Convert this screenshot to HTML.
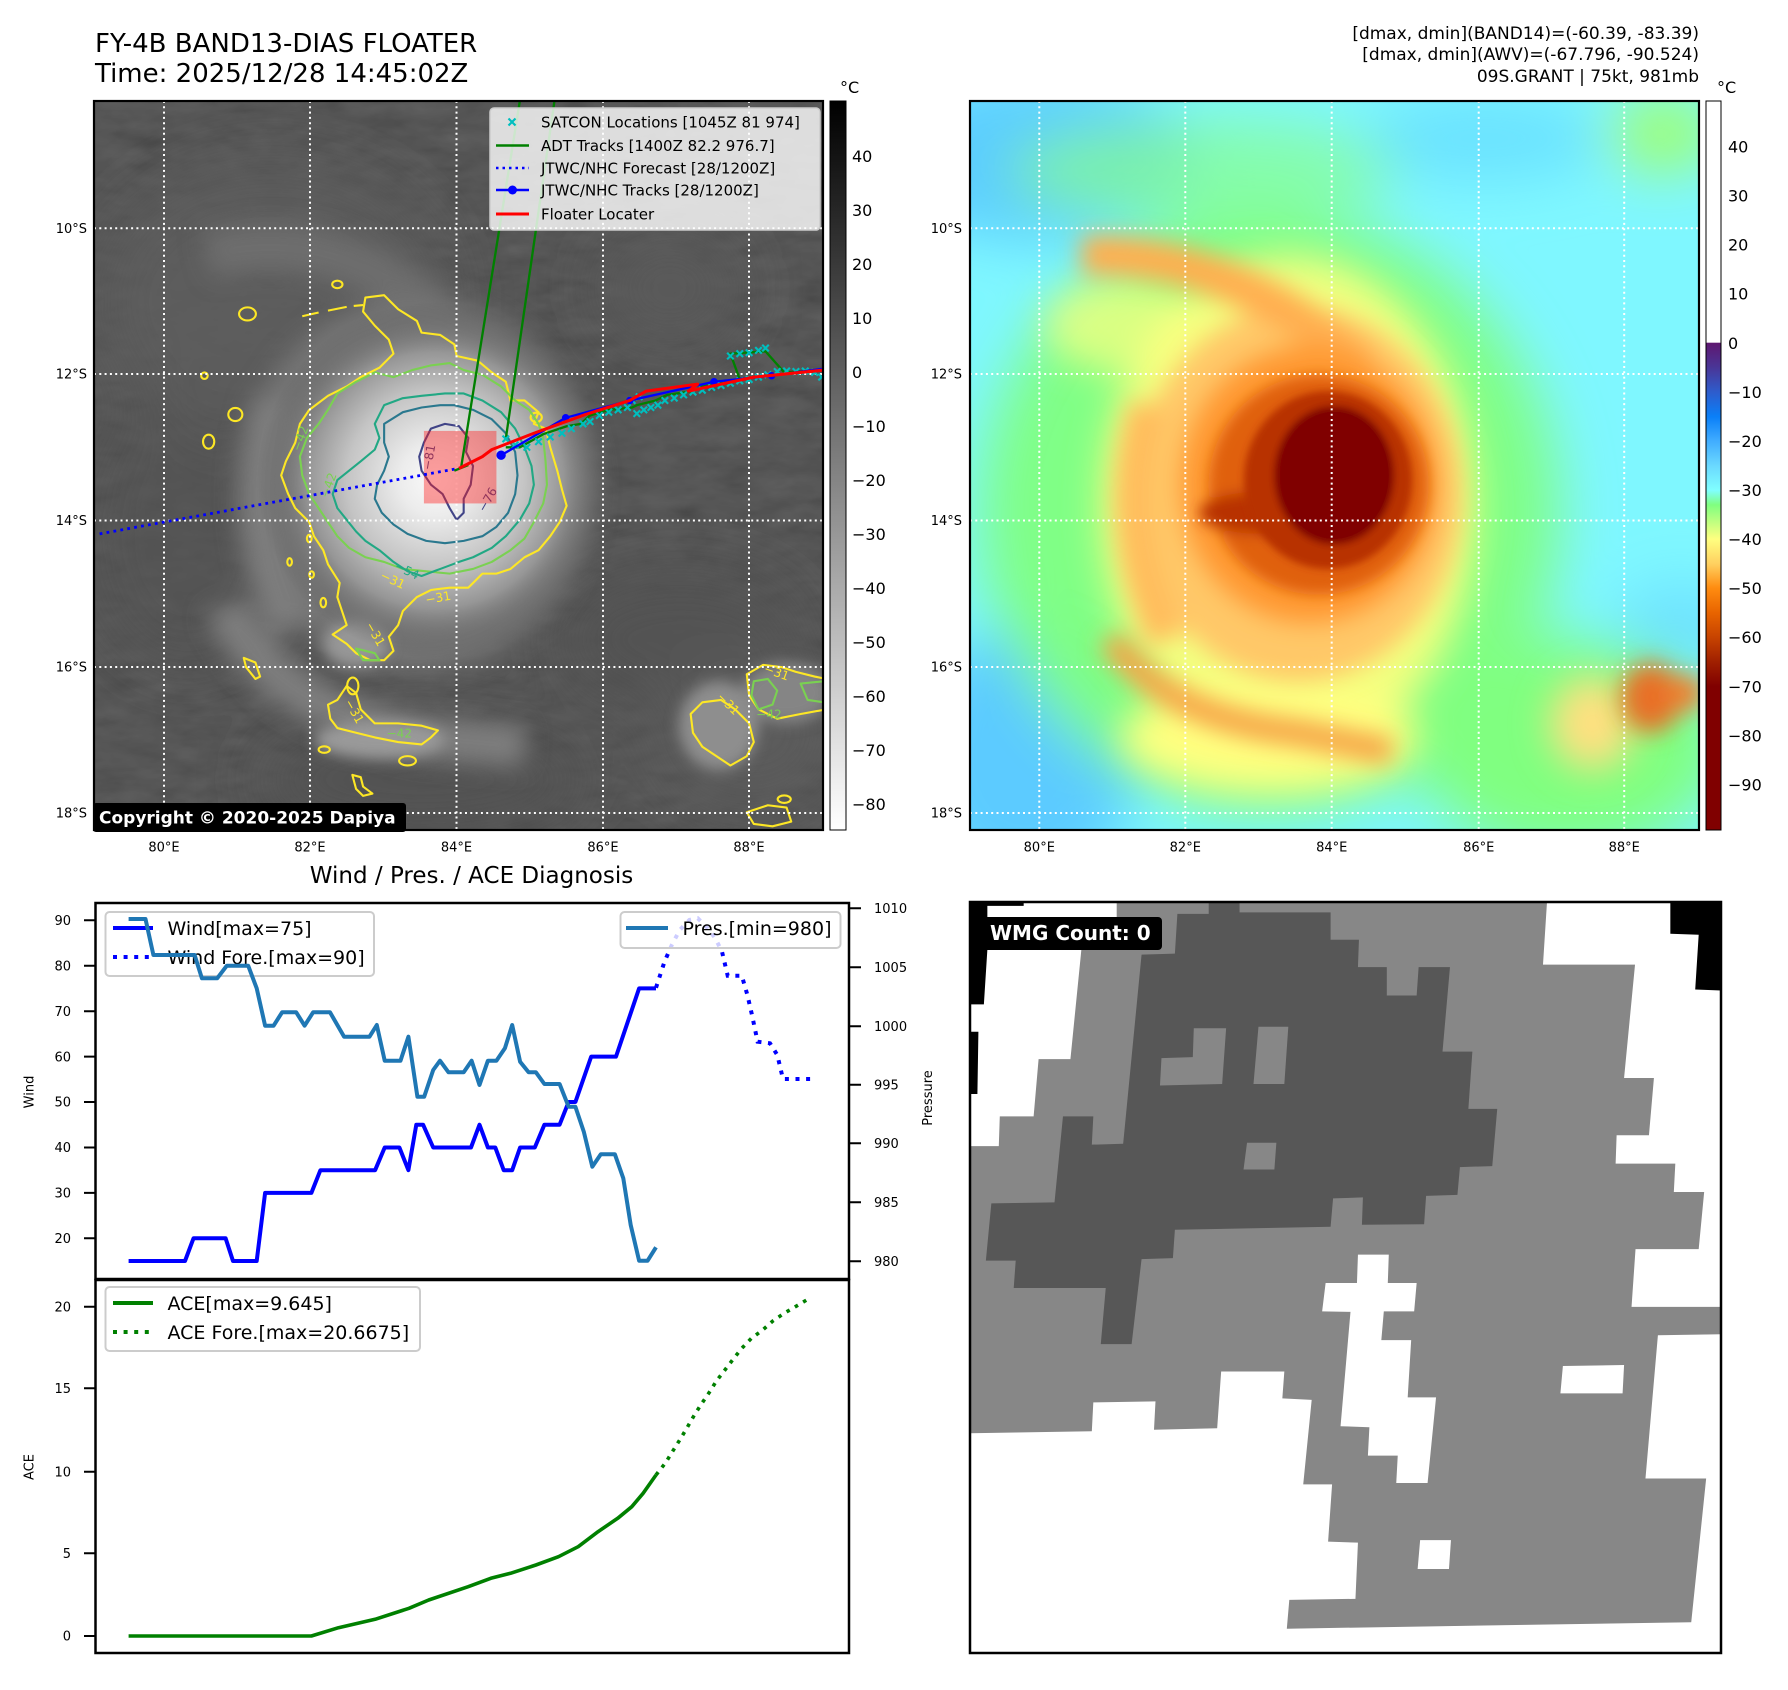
<!DOCTYPE html>
<html><head><meta charset="utf-8"><style>
html,body{margin:0;padding:0;background:#fff;}
svg{display:block;}
text{font-family:"DejaVu Sans","Liberation Sans",sans-serif;}
</style></head><body>
<svg width="1788" height="1690" viewBox="0 0 1788 1690" xmlns="http://www.w3.org/2000/svg">
<defs>
<filter id="b60" x="-50%" y="-50%" width="200%" height="200%"><feGaussianBlur stdDeviation="60"/></filter>
<filter id="b40" x="-50%" y="-50%" width="200%" height="200%"><feGaussianBlur stdDeviation="40"/></filter>
<filter id="b25" x="-50%" y="-50%" width="200%" height="200%"><feGaussianBlur stdDeviation="25"/></filter>
<filter id="b15" x="-50%" y="-50%" width="200%" height="200%"><feGaussianBlur stdDeviation="15"/></filter>
<filter id="b8" x="-50%" y="-50%" width="200%" height="200%"><feGaussianBlur stdDeviation="8"/></filter>
<filter id="noise" x="0" y="0" width="100%" height="100%">
<feTurbulence type="fractalNoise" baseFrequency="0.012 0.03" numOctaves="3" seed="7"/>
<feColorMatrix type="matrix" values="0.33 0.33 0.33 0 0  0.33 0.33 0.33 0 0  0.33 0.33 0.33 0 0  0 0 0 0 1"/>
</filter>
<radialGradient id="cdo" cx="730" cy="810" r="380" gradientUnits="userSpaceOnUse">
<stop offset="0" stop-color="#fafafa"/>
<stop offset="0.2" stop-color="#ececec"/>
<stop offset="0.5" stop-color="#c4c4c4"/>
<stop offset="0.72" stop-color="#969696"/>
<stop offset="0.86" stop-color="#747474" stop-opacity="0.5"/>
<stop offset="1" stop-color="#555" stop-opacity="0"/>
</radialGradient>
<linearGradient id="cbgray" x1="0" y1="0" x2="0" y2="1">
<stop offset="0" stop-color="#000"/><stop offset="1" stop-color="#fff"/>
</linearGradient>
<linearGradient id="cbcol" x1="0" y1="0" x2="0" y2="1">
<stop offset="0" stop-color="#fff"/>
<stop offset="0.331" stop-color="#fff"/>
<stop offset="0.332" stop-color="#5e1770"/>
<stop offset="0.365" stop-color="#4a3596"/>
<stop offset="0.399" stop-color="#2e5ccc"/>
<stop offset="0.433" stop-color="#0a7ff8"/>
<stop offset="0.466" stop-color="#40acff"/>
<stop offset="0.50" stop-color="#6ad8ff"/>
<stop offset="0.534" stop-color="#80ffff"/>
<stop offset="0.554" stop-color="#80ff80"/>
<stop offset="0.601" stop-color="#ffff80"/>
<stop offset="0.635" stop-color="#ffd060"/>
<stop offset="0.668" stop-color="#ff8c10"/>
<stop offset="0.702" stop-color="#e86400"/>
<stop offset="0.735" stop-color="#c84400"/>
<stop offset="0.769" stop-color="#a02000"/>
<stop offset="0.803" stop-color="#800000"/>
<stop offset="1" stop-color="#800000"/>
</linearGradient>
<g id="xm"><path d="M-7,-7 L7,7 M-7,7 L7,-7" stroke="#00bfbf" stroke-width="4.5"/></g>
</defs>

<!-- Titles -->
<text x="95" y="52" font-size="26">FY-4B BAND13-DIAS FLOATER</text>
<text x="95" y="82" font-size="26">Time: 2025/12/28 14:45:02Z</text>
<text x="1699" y="39" font-size="17" text-anchor="end">[dmax, dmin](BAND14)=(-60.39, -83.39)</text>
<text x="1699" y="60" font-size="17" text-anchor="end">[dmax, dmin](AWV)=(-67.796, -90.524)</text>
<text x="1699" y="82" font-size="17" text-anchor="end">09S.GRANT | 75kt, 981mb</text>

<!-- LEFT MAP imagery -->
<svg x="94" y="101" width="730" height="730" viewBox="0 0 1560 1560">
<rect width="1560" height="1560" fill="#3a3a3a"/>
<rect width="1560" height="1560" filter="url(#noise)" opacity="0.22"/>
<g filter="url(#b60)">
<ellipse cx="380" cy="430" rx="380" ry="300" fill="#5e5e5e" opacity="0.85"/>
<ellipse cx="200" cy="920" rx="220" ry="300" fill="#555" opacity="0.7"/>
<ellipse cx="1230" cy="400" rx="150" ry="120" fill="#5a5a5a"/>
<ellipse cx="1250" cy="1150" rx="260" ry="150" fill="#525252"/>
<ellipse cx="1400" cy="1350" rx="200" ry="170" fill="#5c5c5c"/>
<ellipse cx="700" cy="1450" rx="350" ry="120" fill="#535353"/>
</g>
<g filter="url(#b25)">
<path d="M240,330 Q560,250 820,540" stroke="#747474" stroke-width="100" fill="none" opacity="0.75"/>
<ellipse cx="690" cy="820" rx="380" ry="400" fill="#747474"/>
<path d="M280,1080 Q380,1300 700,1360 L920,1380" stroke="#7e7e7e" stroke-width="90" fill="none"/>
<path d="M380,640 Q300,900 420,1130" stroke="#7e7e7e" stroke-width="80" fill="none"/>
</g>
<g filter="url(#b15)">
<ellipse cx="1335" cy="1335" rx="85" ry="95" fill="#8e8e8e"/>
<ellipse cx="1480" cy="1265" rx="95" ry="65" fill="#858585"/>
<ellipse cx="610" cy="1365" rx="140" ry="40" fill="#9a9a9a"/>
<ellipse cx="560" cy="1160" rx="70" ry="50" fill="#969696"/>
</g>
<circle cx="730" cy="810" r="380" fill="url(#cdo)"/>
<!-- contours -->
<g fill="none" stroke-width="4.5" stroke-linejoin="round">
<path stroke="#fde725" d="M580,420 L620,415 650,445 690,470 700,495 740,500 770,520 775,545 820,555 850,580 880,600 890,640 920,640 950,665 940,690 965,700 975,740 990,790 1000,830 1010,865 995,900 975,930 950,960 920,975 890,1000 860,1010 830,1010 800,1040 760,1040 720,1045 690,1060 660,1090 650,1120 630,1145 640,1175 620,1195 590,1195 560,1180 540,1160 510,1140 540,1120 530,1090 520,1060 525,1030 500,990 490,960 470,930 460,900 430,870 415,840 400,800 410,770 430,730 440,690 460,660 500,630 540,610 570,590 610,570 640,540 630,510 600,480 575,450 Z"/>
<path stroke="#fde725" d="M445,460 L480,452 M500,448 L540,440 M555,438 L575,436"/>
<ellipse stroke="#fde725" cx="328" cy="455" rx="18" ry="14"/>
<ellipse stroke="#fde725" cx="520" cy="392" rx="11" ry="8"/>
<ellipse stroke="#fde725" cx="302" cy="670" rx="15" ry="14"/>
<ellipse stroke="#fde725" cx="245" cy="728" rx="12" ry="15"/>
<ellipse stroke="#fde725" cx="236" cy="587" rx="7" ry="7"/>
<ellipse stroke="#fde725" cx="418" cy="985" rx="5" ry="8"/>
<ellipse stroke="#fde725" cx="460" cy="935" rx="5" ry="8"/>
<ellipse stroke="#fde725" cx="465" cy="1012" rx="5" ry="7"/>
<ellipse stroke="#fde725" cx="490" cy="1072" rx="6" ry="10"/>
<path stroke="#fde725" d="M320,1190 L345,1200 355,1230 345,1235 325,1210 Z"/>
<ellipse stroke="#fde725" cx="553" cy="1250" rx="12" ry="18"/>
<path stroke="#fde725" d="M500,1290 L520,1280 540,1250 560,1265 570,1300 600,1330 650,1330 700,1335 735,1345 720,1360 700,1375 650,1370 600,1360 560,1350 520,1340 505,1320 Z"/>
<ellipse stroke="#fde725" cx="492" cy="1386" rx="12" ry="7"/>
<ellipse stroke="#fde725" cx="670" cy="1410" rx="18" ry="10"/>
<path stroke="#fde725" d="M552,1440 L570,1445 575,1465 595,1480 575,1485 560,1470 Z"/>
<path stroke="#fde725" d="M1275,1310 L1300,1285 1340,1280 1370,1300 1400,1330 1410,1370 1395,1400 1360,1420 1330,1400 1300,1380 1280,1350 Z"/>
<path stroke="#fde725" d="M1395,1225 L1430,1205 1470,1210 1500,1220 1540,1230 1565,1235 L1565,1300 1510,1310 1460,1320 1420,1300 1400,1270 Z"/>
<path stroke="#fde725" d="M1395,1520 L1440,1505 1480,1510 1490,1540 1450,1550 1410,1545 Z"/>
<ellipse stroke="#fde725" cx="1475" cy="1492" rx="14" ry="8"/>
<ellipse stroke="#fde725" cx="945" cy="676" rx="12" ry="10"/>
<path stroke="#7ad151" d="M520,625 L560,600 600,580 640,590 680,575 720,565 760,560 790,575 830,585 870,610 900,640 930,660 950,690 960,720 965,770 968,820 960,860 940,900 920,935 890,960 850,985 810,1000 760,1010 710,1005 660,1000 620,985 580,975 545,955 520,930 500,900 480,870 460,840 445,800 440,760 455,720 480,690 500,660 Z"/>
<path stroke="#7ad151" d="M1410,1240 L1440,1235 1460,1260 1450,1290 1420,1300 1405,1270 Z M1510,1245 L1560,1240 1560,1285 1525,1280 Z M560,1170 L600,1180 610,1195 575,1195 Z"/>
<path stroke="#22a884" d="M620,650 L660,635 700,630 750,625 790,625 830,640 870,665 900,700 920,740 935,780 940,820 930,860 910,895 880,930 850,955 810,975 780,985 740,1000 700,1015 670,1005 640,985 610,960 580,940 560,920 540,895 520,870 510,840 520,810 545,790 570,770 600,745 610,720 600,690 Z"/>
<path stroke="#2a788e" d="M620,690 L660,665 700,655 740,650 770,650 810,660 850,680 880,710 900,750 905,800 900,840 885,880 860,910 830,930 790,940 750,945 710,940 670,925 640,905 615,880 600,850 605,820 620,790 630,760 620,730 Z"/>
<path stroke="#414487" d="M720,700 L750,690 780,695 800,720 795,750 810,780 805,820 790,850 790,880 775,895 760,870 745,840 720,820 700,790 695,760 705,730 Z"/>
</g>
<g font-size="26" font-family="DejaVu Sans, sans-serif">
<text x="835" y="880" fill="#414487" transform="rotate(-60 835 880)">−76</text>
<text x="640" y="1000" fill="#22a884" transform="rotate(25 640 1000)">−54</text>
<text x="610" y="1020" fill="#fde725" transform="rotate(25 610 1020)">−31</text>
<text x="710" y="1075" fill="#fde725" transform="rotate(-10 710 1075)">−31</text>
<text x="580" y="1120" fill="#fde725" transform="rotate(60 580 1120)">−31</text>
<text x="535" y="1285" fill="#fde725" transform="rotate(60 535 1285)">−31</text>
<text x="1330" y="1275" fill="#fde725" transform="rotate(45 1330 1275)">−31</text>
<text x="1430" y="1220" fill="#fde725" transform="rotate(20 1430 1220)">−31</text>
<text x="1415" y="1320" fill="#7ad151">−42</text>
<text x="625" y="1360" fill="#7ad151">−42</text>
<text x="500" y="850" fill="#7ad151" transform="rotate(-70 500 850)">−42</text>
<text x="440" y="750" fill="#7ad151" transform="rotate(-70 440 750)">−42</text>
<text x="720" y="790" fill="#414487" transform="rotate(-80 720 790)">−81</text>
</g>
</svg>
<!-- left map gridlines -->
<g stroke="#fff" stroke-width="2" stroke-dasharray="2 3.3" fill="none">
<path d="M164,101 V830 M310,101 V830 M456.5,101 V830 M603,101 V830 M749,101 V830"/>
<path d="M94,228.3 H823 M94,374 H823 M94,520.5 H823 M94,667 H823 M94,813 H823"/>
</g>
<!-- left map tracks -->
<svg x="94" y="101" width="730" height="730" viewBox="0 0 1560 1560">
<rect x="705" y="705" width="155" height="155" fill="#ff2020" opacity="0.42"/>
<path d="M12,925 L780,785" stroke="#0000ff" stroke-width="6" stroke-dasharray="6 9" fill="none"/>
<g stroke="#008000" stroke-width="5" fill="none">
<path d="M785,780 L910,0"/>
<path d="M880,722 L984,0"/>
<path d="M880,740 L910,740 960,712 1010,695 1040,690 1060,672 1100,660 1150,655 1160,650 1200,640 1225,628 1280,620 1300,610 1380,595 1360,540 1435,535 1475,580 1560,575"/>
<path d="M770,790 L800,778"/>
</g>
<g>
<use href="#xm" x="880" y="722"/><use href="#xm" x="900" y="735"/><use href="#xm" x="925" y="740"/><use href="#xm" x="950" y="728"/><use href="#xm" x="975" y="718"/><use href="#xm" x="1000" y="710"/><use href="#xm" x="1020" y="700"/><use href="#xm" x="1045" y="690"/><use href="#xm" x="1060" y="685"/><use href="#xm" x="1080" y="672"/><use href="#xm" x="1100" y="665"/><use href="#xm" x="1120" y="660"/><use href="#xm" x="1140" y="655"/><use href="#xm" x="1160" y="668"/><use href="#xm" x="1175" y="660"/><use href="#xm" x="1190" y="655"/><use href="#xm" x="1205" y="650"/><use href="#xm" x="1220" y="640"/><use href="#xm" x="1240" y="635"/><use href="#xm" x="1260" y="628"/><use href="#xm" x="1280" y="622"/><use href="#xm" x="1300" y="618"/><use href="#xm" x="1320" y="612"/><use href="#xm" x="1340" y="608"/><use href="#xm" x="1360" y="603"/><use href="#xm" x="1380" y="598"/><use href="#xm" x="1400" y="595"/><use href="#xm" x="1420" y="590"/><use href="#xm" x="1440" y="585"/><use href="#xm" x="1460" y="578"/><use href="#xm" x="1480" y="577"/><use href="#xm" x="1500" y="578"/><use href="#xm" x="1520" y="577"/><use href="#xm" x="1540" y="580"/><use href="#xm" x="1555" y="590"/><use href="#xm" x="1360" y="545"/><use href="#xm" x="1380" y="540"/><use href="#xm" x="1400" y="538"/><use href="#xm" x="1420" y="533"/><use href="#xm" x="1435" y="528"/><use href="#xm" x="1150" y="640"/><use href="#xm" x="1165" y="632"/>
</g>
<path d="M870,757 L1008,677 L1145,640 L1325,600 L1448,587 L1560,572" stroke="#0000ff" stroke-width="5" fill="none"/>
<g fill="#0000ff"><circle cx="870" cy="757" r="10"/><circle cx="1008" cy="677" r="8"/><circle cx="1145" cy="640" r="8"/><circle cx="1325" cy="600" r="8"/><circle cx="1448" cy="587" r="8"/></g>
<path d="M780,785 L800,775 830,760 850,745 940,710 1050,670 1145,640 1180,620 1290,605 1270,620 1410,590 1560,575" stroke="#ff0000" stroke-width="6.5" fill="none" stroke-linejoin="round"/>
</svg>
<!-- left map legend -->
<rect x="490" y="108" width="330" height="122" rx="4" fill="#fff" fill-opacity="0.8" stroke="#cccccc" stroke-width="1.5"/>
<path d="M508.5,118.5 L515.5,125.5 M508.5,125.5 L515.5,118.5" stroke="#00bfbf" stroke-width="2.2"/>
<path d="M496,145.5 H529" stroke="#008000" stroke-width="2.5"/>
<path d="M496,168 H529" stroke="#0000ff" stroke-width="2.5" stroke-dasharray="2.5 4"/>
<path d="M496,190 H529" stroke="#0000ff" stroke-width="2.5"/><circle cx="512.5" cy="190" r="4.5" fill="#0000ff"/>
<path d="M496,214 H529" stroke="#ff0000" stroke-width="3"/>
<g font-size="15" fill="#000">
<text x="541" y="127.5">SATCON Locations [1045Z 81 974]</text>
<text x="541" y="151">ADT Tracks [1400Z 82.2 976.7]</text>
<text x="541" y="173.5">JTWC/NHC Forecast [28/1200Z]</text>
<text x="541" y="195.5">JTWC/NHC Tracks [28/1200Z]</text>
<text x="541" y="219.5">Floater Locater</text>
</g>
<!-- copyright -->
<rect x="93" y="803" width="313" height="29" rx="3" fill="#000"/>
<text x="99" y="823.5" font-size="17" font-weight="bold" fill="#fff">Copyright © 2020-2025 Dapiya</text>
<rect x="94" y="101" width="729" height="729" fill="none" stroke="#000" stroke-width="2.2"/>
<!-- left map labels -->
<g font-size="13" fill="#000" text-anchor="end">
<text x="87" y="233">10°S</text><text x="87" y="378.7">12°S</text><text x="87" y="525.2">14°S</text><text x="87" y="671.7">16°S</text><text x="87" y="817.7">18°S</text>
</g>
<g font-size="13" fill="#000" text-anchor="middle">
<text x="164" y="851.7">80°E</text><text x="310" y="851.7">82°E</text><text x="456.5" y="851.7">84°E</text><text x="603" y="851.7">86°E</text><text x="749" y="851.7">88°E</text>
</g>
<!-- left colorbar -->
<rect x="830" y="101" width="16" height="729" fill="url(#cbgray)" stroke="#000" stroke-width="1"/>
<text x="840" y="93" font-size="16">°C</text>
<g font-size="16" fill="#000">
<text x="852" y="161.8">40</text><text x="852" y="215.8">30</text><text x="852" y="269.8">20</text><text x="852" y="323.8">10</text><text x="852" y="377.8">0</text><text x="852" y="431.8">−10</text><text x="852" y="485.8">−20</text><text x="852" y="539.8">−30</text><text x="852" y="593.8">−40</text><text x="852" y="647.8">−50</text><text x="852" y="701.8">−60</text><text x="852" y="755.8">−70</text><text x="852" y="809.8">−80</text>
</g>

<!-- RIGHT MAP -->
<svg x="970" y="101" width="730" height="730" viewBox="0 0 1560 1560">
<rect width="1560" height="1560" fill="#7ff7ff"/>
<g filter="url(#b60)">
<ellipse cx="150" cy="120" rx="330" ry="180" fill="#5ccdff"/>
<ellipse cx="120" cy="1400" rx="240" ry="280" fill="#5ccbff"/>
<ellipse cx="1100" cy="80" rx="260" ry="90" fill="#6ae2ff"/>
<ellipse cx="1520" cy="1130" rx="140" ry="100" fill="#6ee2ff"/>
<ellipse cx="640" cy="880" rx="620" ry="640" fill="#80ff80" opacity="0.95"/>
<ellipse cx="500" cy="150" rx="420" ry="110" fill="#88ff88" opacity="0.7"/>
<ellipse cx="1280" cy="1380" rx="330" ry="230" fill="#80ff80"/>
<ellipse cx="1480" cy="70" rx="120" ry="80" fill="#a0ff70"/>
</g>
<g filter="url(#b40)">
<ellipse cx="680" cy="870" rx="400" ry="540" fill="#ffff80" opacity="0.9"/>
<ellipse cx="330" cy="480" rx="170" ry="100" fill="#ffff80" opacity="0.7"/>
<ellipse cx="640" cy="1360" rx="320" ry="120" fill="#ffff80"/>
<ellipse cx="1330" cy="1330" rx="90" ry="100" fill="#ffe080"/>
</g>
<g filter="url(#b25)">
<ellipse cx="700" cy="840" rx="350" ry="400" fill="#ffc868"/>
<path d="M240,330 Q560,320 840,570" stroke="#ffae50" stroke-width="85" fill="none"/>
<path d="M300,1150 Q420,1320 700,1350 L900,1390" stroke="#f5a045" stroke-width="55" fill="none"/>
<path d="M380,650 Q300,900 420,1150" stroke="#ffbc5c" stroke-width="75" fill="none"/>
<ellipse cx="725" cy="820" rx="280" ry="300" fill="#ff9a30"/>
<ellipse cx="1455" cy="1275" rx="65" ry="75" fill="#e87028"/>
<ellipse cx="1530" cy="1265" rx="40" ry="40" fill="#f08030"/>
</g>
<g filter="url(#b15)">
<ellipse cx="745" cy="820" rx="235" ry="235" fill="#e06010"/>
<ellipse cx="620" cy="880" rx="130" ry="45" fill="#b83000"/>
</g>
<g filter="url(#b8)">
<ellipse cx="765" cy="810" rx="180" ry="190" fill="#b83000"/>
<ellipse cx="778" cy="800" rx="128" ry="148" fill="#800000"/>
</g>
<ellipse cx="780" cy="800" rx="115" ry="135" fill="#800000"/>
</svg>
<g stroke="#fff" stroke-width="2" stroke-dasharray="2 3.3" fill="none">
<path d="M1039.3,101 V830 M1185.3,101 V830 M1331.7,101 V830 M1478.7,101 V830 M1624.2,101 V830"/>
<path d="M970,228.3 H1699 M970,374 H1699 M970,520.5 H1699 M970,667 H1699 M970,813 H1699"/>
</g>
<rect x="970" y="101" width="729" height="729" fill="none" stroke="#000" stroke-width="2.2"/>
<g font-size="13" fill="#000" text-anchor="end">
<text x="962" y="233">10°S</text><text x="962" y="378.7">12°S</text><text x="962" y="525.2">14°S</text><text x="962" y="671.7">16°S</text><text x="962" y="817.7">18°S</text>
</g>
<g font-size="13" fill="#000" text-anchor="middle">
<text x="1039.3" y="851.7">80°E</text><text x="1185.3" y="851.7">82°E</text><text x="1331.7" y="851.7">84°E</text><text x="1478.7" y="851.7">86°E</text><text x="1624.2" y="851.7">88°E</text>
</g>
<!-- right colorbar -->
<rect x="1706" y="101" width="15" height="729" fill="url(#cbcol)" stroke="#000" stroke-width="1"/>
<text x="1717" y="93" font-size="16">°C</text>
<g font-size="16" fill="#000">
<text x="1728" y="152.5">40</text><text x="1728" y="201.6">30</text><text x="1728" y="250.7">20</text><text x="1728" y="299.7">10</text><text x="1728" y="348.8">0</text><text x="1728" y="397.9">−10</text><text x="1728" y="446.9">−20</text><text x="1728" y="496">−30</text><text x="1728" y="545.1">−40</text><text x="1728" y="594.2">−50</text><text x="1728" y="643.2">−60</text><text x="1728" y="692.3">−70</text><text x="1728" y="741.4">−80</text><text x="1728" y="790.4">−90</text>
</g>

<!-- BOTTOM LEFT: Wind / Pres / ACE -->
<text x="471.5" y="883" font-size="23" text-anchor="middle">Wind / Pres. / ACE Diagnosis</text>
<polyline fill="none" stroke="#0000ff" stroke-width="4" stroke-linejoin="round" points="128.6,1261 185,1261 193.5,1238.3 225.6,1238.3 233,1261 256.7,1261 265.1,1192.9 311.4,1192.9 320.4,1170.2 375.1,1170.2 384.7,1147.5 399.4,1147.5 408.4,1170.2 416.3,1124.7 423.1,1124.7 433.2,1147.5 471,1147.5 479.5,1124.7 487.9,1147.5 495.3,1147.5 503.7,1170.2 512.2,1170.2 520.1,1147.5 534.8,1147.5 544.4,1124.7 559.6,1124.7 568.6,1102 575.4,1102 591.2,1056.6 616,1056.6 639.1,988.4 656,988.4"/>
<polyline fill="none" stroke="#0000ff" stroke-width="4" stroke-dasharray="4 6.6" points="656,987.7 664.5,961.7 671.8,945 679.7,930 689.3,920 697.8,918.3 706.3,926.7 715.3,938.3 722,951.7 727.7,975.7 741.8,975.7 747.4,995 752,1015 757.6,1041.7 770,1043.3 777.3,1055 783,1079 812.3,1079"/>
<rect x="105.5" y="912" width="268.5" height="64" rx="4" fill="#fff" fill-opacity="0.8" stroke="#cccccc" stroke-width="2"/>
<path d="M113,928 H153" stroke="#0000ff" stroke-width="4"/>
<path d="M113,957 H153" stroke="#0000ff" stroke-width="4" stroke-dasharray="4 6.6"/>
<text x="167.5" y="935" font-size="19">Wind[max=75]</text>
<text x="167.5" y="964" font-size="19">Wind Fore.[max=90]</text>
<polyline fill="none" stroke="#1f77b4" stroke-width="4" stroke-linejoin="round" points="128.6,919 145.5,919 153.4,955 194.6,955 201.9,978.3 217.2,978.3 226.8,965.7 248.2,965.7 256.7,988.3 265.1,1025.7 273.6,1025.7 282.1,1012.3 296.2,1012.3 304.6,1025.7 313.1,1012.3 330,1012.3 344.1,1036.7 369.5,1036.7 376.8,1025 384.7,1060.7 400.5,1060.7 408.4,1036.7 417.4,1096.7 424.2,1096.7 433.2,1070 440,1060.7 448.5,1072.3 463.7,1072.3 471.6,1060.7 479.5,1085 487.9,1060.7 496.4,1060.7 504.9,1048.3 512.2,1025 520.1,1061.7 528.6,1072.3 535.9,1072.3 544.4,1084 559.6,1084 568.6,1106.7 575.4,1106.7 583.8,1131.7 592.3,1166.7 600.8,1154.3 614.9,1154.3 623.3,1178.3 630.7,1225 639.1,1260.7 647.6,1260.7 656,1247.3"/>
<rect x="620.5" y="912" width="220" height="36" rx="4" fill="#fff" fill-opacity="0.8" stroke="#cccccc" stroke-width="2"/>
<path d="M626,928 H668" stroke="#1f77b4" stroke-width="4"/>
<text x="682.5" y="935" font-size="19">Pres.[min=980]</text>
<rect x="95.5" y="903" width="753.5" height="376" fill="none" stroke="#000" stroke-width="2.5"/>
<g stroke="#000" stroke-width="2">
<path d="M84,920.3 H95 M84,965.7 H95 M84,1011.2 H95 M84,1056.6 H95 M84,1102 H95 M84,1147.5 H95 M84,1192.9 H95 M84,1238.3 H95"/>
<path d="M849,908.3 H861 M849,967.3 H861 M849,1026.3 H861 M849,1084.7 H861 M849,1143.3 H861 M849,1202.3 H861 M849,1261.3 H861"/>
</g>
<g font-size="13" text-anchor="end">
<text x="71" y="925">90</text><text x="71" y="970.4">80</text><text x="71" y="1015.9">70</text><text x="71" y="1061.3">60</text><text x="71" y="1106.7">50</text><text x="71" y="1152.2">40</text><text x="71" y="1197.6">30</text><text x="71" y="1243">20</text>
</g>
<g font-size="13">
<text x="874" y="913">1010</text><text x="874" y="972">1005</text><text x="874" y="1031">1000</text><text x="874" y="1089.4">995</text><text x="874" y="1148">990</text><text x="874" y="1207">985</text><text x="874" y="1266">980</text>
</g>
<text x="0" y="0" font-size="13" text-anchor="middle" transform="translate(33.5,1092) rotate(-90)">Wind</text>
<text x="0" y="0" font-size="13" text-anchor="middle" transform="translate(932,1098) rotate(-90)">Pressure</text>
<polyline fill="none" stroke="#008000" stroke-width="3.6" stroke-linejoin="round" points="128.6,1636 311.4,1636 338.5,1627.7 375.1,1619.3 409,1608.3 428.7,1600 468.2,1586.7 490.8,1578.3 510.5,1573.3 535.9,1565 558.5,1556.7 578.2,1546.7 598,1531.7 617.7,1518.3 631.8,1506.7 643.1,1493.3 656,1475"/>
<polyline fill="none" stroke="#008000" stroke-width="3.6" stroke-dasharray="3.6 6" points="656,1475 665.6,1462.7 672.4,1451.7 679.7,1440 687.1,1427.7 693.8,1416 701.2,1404.3 709.1,1392.7 716.4,1381 724.9,1370 733.3,1359 741.8,1348.3 751.4,1338.3 762.7,1330 772.8,1321 784.1,1313.3 795.4,1306.7 809.5,1298.3"/>
<rect x="105.5" y="1287" width="314.5" height="64" rx="4" fill="#fff" fill-opacity="0.8" stroke="#cccccc" stroke-width="2"/>
<path d="M113,1303 H153" stroke="#008000" stroke-width="4"/>
<path d="M113,1332 H153" stroke="#008000" stroke-width="4" stroke-dasharray="4 6.6"/>
<text x="167.5" y="1310" font-size="19">ACE[max=9.645]</text>
<text x="167.5" y="1339" font-size="19">ACE Fore.[max=20.6675]</text>
<rect x="95.5" y="1280" width="753.5" height="373" fill="none" stroke="#000" stroke-width="2.5"/>
<g stroke="#000" stroke-width="2">
<path d="M84,1306.7 H95 M84,1388.3 H95 M84,1471.7 H95 M84,1553.3 H95 M84,1636 H95"/>
</g>
<g font-size="13" text-anchor="end">
<text x="71" y="1311.4">20</text><text x="71" y="1393">15</text><text x="71" y="1476.4">10</text><text x="71" y="1558">5</text><text x="71" y="1640.7">0</text>
</g>
<text x="0" y="0" font-size="13" text-anchor="middle" transform="translate(33.5,1467) rotate(-90)">ACE</text>

<!-- BOTTOM RIGHT: WMG -->
<svg x="960" y="890" width="776" height="776" viewBox="0 0 1560 1560">
<rect x="20" y="25" width="1510" height="1508" fill="#fff"/>
<path fill="#878787" d="M315,25 L1180,25 L1172,150 L1357,150 L1335,378 L1395,378 L1385,493 L1320,493 L1318,550 L1438,550 L1435,607 L1496,607 L1485,722 L1358,722 L1350,838 L1530,838 L1530,893 L1403,895 L1378,1183 L1500,1183 L1470,1472 L657,1485 L662,1427 L795,1425 L800,1312 L740,1310 L748,1195 L690,1195 L707,1025 L648,1022 L652,968 L525,968 L517,1082 L390,1085 L393,1028 L268,1030 L265,1088 L20,1092 L20,515 L78,515 L80,455 L148,455 L158,340 L222,340 L243,130 L250,55 L315,55 Z"/>
<path fill="#575757" d="M500,25 L562,25 L562,45 L745,45 L745,100 L802,100 L800,155 L858,155 L858,212 L918,212 L922,155 L985,155 L970,325 L1030,325 L1022,440 L1080,440 L1070,555 L1005,557 L1000,613 L937,615 L933,672 L808,673 L810,618 L750,620 L745,677 L432,683 L428,740 L365,742 L345,913 L283,913 L293,800 L108,800 L112,745 L52,745 L63,630 L190,628 L207,455 L268,455 L265,512 L328,510 L365,130 L432,128 L437,48 L500,48 Z"/>
<path fill="#878787" d="M470,278 L535,278 L527,390 L402,393 L405,338 L468,336 Z M600,275 L660,275 L652,390 L590,390 Z M577,508 L636,508 L632,562 L570,562 Z"/>
<path fill="#fff" d="M800,733 L862,733 L860,790 L918,790 L913,847 L852,847 L847,905 L907,905 L900,1020 L957,1020 L940,1192 L877,1192 L880,1137 L820,1137 L823,1080 L765,1078 L785,848 L728,847 L735,790 L798,790 Z M1212,957 L1335,955 L1332,1012 L1207,1012 Z M925,1307 L987,1307 L983,1365 L920,1365 Z"/>
<path fill="#000" d="M20,25 L128,25 L128,32 L55,32 L55,120 L48,230 L20,230 Z M20,285 L37,285 L35,410 L20,410 Z M1428,25 L1530,25 L1530,202 L1478,200 L1485,90 L1428,88 Z"/>
</svg>
<rect x="980" y="917" width="182" height="33" rx="4" fill="#000"/>
<text x="990" y="940" font-size="20" font-weight="bold" fill="#fff">WMG Count: 0</text>
<rect x="970" y="902" width="751" height="751" fill="none" stroke="#000" stroke-width="2.5"/>
</svg>
</body></html>
